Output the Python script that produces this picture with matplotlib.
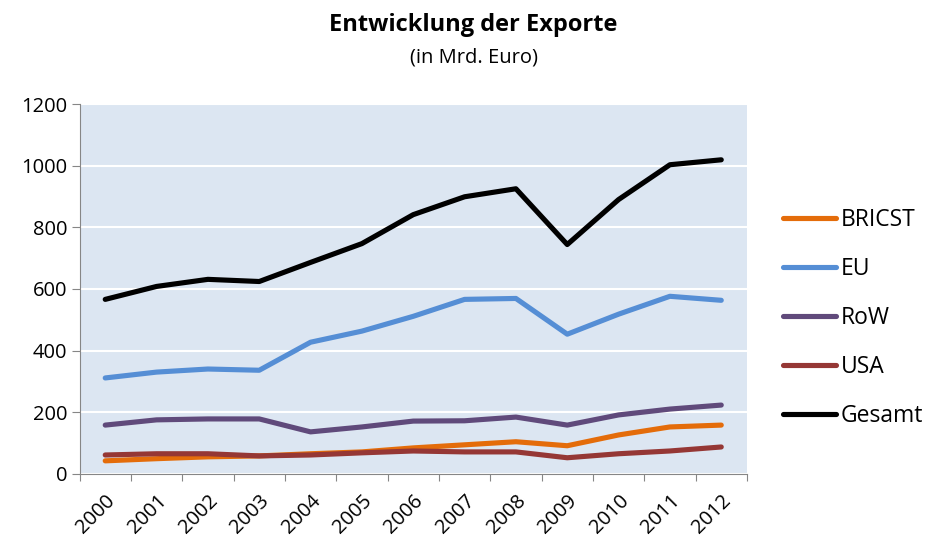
import matplotlib
matplotlib.use("Agg")
import matplotlib.pyplot as plt
import numpy as np

plt.rcParams['font.family'] = ['Open Sans', 'DejaVu Sans']

years = [str(y) for y in range(2000, 2013)]
bricst = [42, 49, 55, 58, 65, 71, 84, 94, 104, 91, 126, 152, 158]
eu = [311, 330, 340, 336, 427, 463, 511, 566, 569, 453, 518, 576, 563]
row = [158, 175, 178, 178, 136, 152, 171, 172, 184, 158, 191, 210, 223]
usa = [61, 65, 65, 58, 61, 68, 74, 71, 71, 52, 65, 74, 87]
gesamt = [566, 608, 631, 624, 686, 747, 841, 899, 925, 744, 890, 1003, 1019]

series = [("BRICST", bricst, "#E46C0A"),
          ("EU", eu, "#558ED5"),
          ("RoW", row, "#604A7B"),
          ("USA", usa, "#953735"),
          ("Gesamt", gesamt, "#000000")]

fig = plt.figure(figsize=(9.36, 5.39), dpi=100)
ax = fig.add_axes([0.085, 0.121, 0.713, 0.686])
ax.set_facecolor("#DCE6F2")

x = np.arange(len(years))
for name, vals, col in series:
    ax.plot(x, vals, color=col, lw=3.7, label=name, solid_capstyle="round",
            solid_joinstyle="round")

ax.set_ylim(0, 1200)
ax.set_yticks(range(0, 1201, 200))
ax.yaxis.grid(True, color="white", lw=1.5)
ax.set_axisbelow(True)

# category axis: ticks between the years, labels in the middle
ax.set_xlim(-0.5, len(years) - 0.5)
ax.set_xticks(np.arange(-0.5, len(years), 1))
ax.set_xticklabels([])
ax.set_xticks(x, minor=True)
ax.set_xticklabels(years, minor=True, rotation=45, ha="right",
                   rotation_mode="anchor", fontsize=14.5)
ax.tick_params(axis="x", which="minor", length=0, pad=12)
ax.tick_params(axis="x", which="major", length=5, color="#868686", direction="out")
ax.tick_params(axis="y", length=6, color="#868686", labelsize=14.5, pad=3)

for s in ["top", "right"]:
    ax.spines[s].set_visible(False)
for s in ["left", "bottom"]:
    ax.spines[s].set_color("#868686")

fig.text(0.506, 0.954, "Entwicklung der Exporte", ha="center", va="center",
         fontsize=17, fontweight="bold")
fig.text(0.506, 0.894, "(in Mrd. Euro)", ha="center", va="center", fontsize=14.5)

fig.legend(loc="center left", bbox_to_anchor=(0.837, 0.41), frameon=False,
           fontsize=16.5, handlelength=2.3, handletextpad=0.2, labelspacing=1.1,
           borderaxespad=0, borderpad=0)

fig.savefig("out.png", dpi=100)
